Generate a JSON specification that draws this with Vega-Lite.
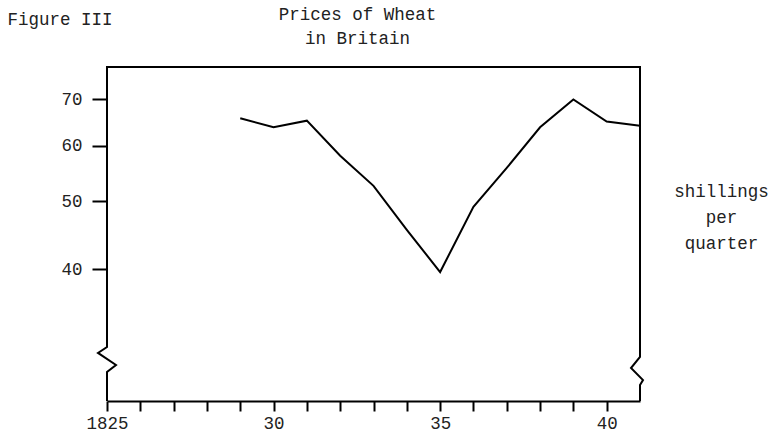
{
  "$schema": "https://vega.github.io/schema/vega-lite/v6.json",
  "width": 533,
  "height": 334,
  "autosize": "none",
  "padding": {"left": 107, "top": 67, "right": 130, "bottom": 31},
  "background": "white",
  "config": {"view": {"stroke": null}, "font": "Liberation Mono"},
  "title": {
    "text": ["Prices of Wheat", "in Britain\u00a0"],
    "font": "Liberation Mono",
    "fontSize": 17.5,
    "fontWeight": "normal",
    "color": "#222",
    "anchor": "middle",
    "dx": -16,
    "dy": 55,
    "offset": 18,
    "lineHeight": 24
  },
  "datasets": {
    "prices": [
      {"year": 1829, "price": 65.7},
      {"year": 1830, "price": 63.8},
      {"year": 1831, "price": 65.2},
      {"year": 1832, "price": 58.1},
      {"year": 1833, "price": 52.6},
      {"year": 1834, "price": 45.5},
      {"year": 1835, "price": 39.6},
      {"year": 1836, "price": 49.1},
      {"year": 1837, "price": 55.8},
      {"year": 1838, "price": 63.8},
      {"year": 1839, "price": 69.9},
      {"year": 1840, "price": 65.0},
      {"year": 1841, "price": 64.1}
    ],
    "frame": [
      {"step": 1, "year": 1825, "price": 25.9},
      {"step": 2, "year": 1825, "price": 28.5},
      {"step": 3, "year": 1825.27, "price": 29.16},
      {"step": 4, "year": 1824.73, "price": 30.34},
      {"step": 5, "year": 1825, "price": 30.94},
      {"step": 6, "year": 1825, "price": 77.8},
      {"step": 7, "year": 1841, "price": 77.8},
      {"step": 8, "year": 1841, "price": 29.94},
      {"step": 9, "year": 1840.73, "price": 28.87},
      {"step": 10, "year": 1841.09, "price": 27.75},
      {"step": 11, "year": 1841, "price": 27.3},
      {"step": 12, "year": 1841, "price": 25.9}
    ]
  },
  "layer": [
    {
      "data": {"name": "frame"},
      "mark": {"type": "line", "color": "black", "strokeWidth": 2, "strokeJoin": "miter", "clip": false},
      "encoding": {
        "x": {
          "field": "year",
          "type": "quantitative",
          "scale": {"domain": [1825, 1841], "nice": false, "zero": false},
          "axis": {
            "values": [1825, 1826, 1827, 1828, 1829, 1830, 1831, 1832, 1833, 1834, 1835, 1836, 1837, 1838, 1839, 1840],
            "tickCount": 40,
            "labelExpr": "datum.value == 1825 ? '1825' : (datum.value % 5 == 0 ? '' + (datum.value % 100) : '')",
            "tickSize": 10,
            "tickWidth": 2,
            "tickColor": "black",
            "domainColor": "black",
            "domainWidth": 2,
            "grid": false,
            "labelFont": "Liberation Mono",
            "labelFontSize": 17.5,
            "labelColor": "#222",
            "labelPadding": 3,
            "labelFlush": false,
            "labelOverlap": false,
            "title": ["shillings", "per", "quarter"],
            "titleAngle": 0,
            "titleX": 614,
            "titleY": -219,
            "titleAlign": "center",
            "titleBaseline": "top",
            "titleFont": "Liberation Mono",
            "titleFontSize": 17.5,
            "titleFontWeight": "normal",
            "titleColor": "#222",
            "titleLineHeight": 26
          }
        },
        "y": {
          "field": "price",
          "type": "quantitative",
          "scale": {"type": "log", "domain": [25.9, 77.8], "nice": false},
          "axis": {
            "values": [40, 50, 60, 70],
            "tickCount": 10,
            "tickSize": 15,
            "tickWidth": 2,
            "tickColor": "black",
            "domain": false,
            "grid": false,
            "labelPadding": 10,
            "labelFont": "Liberation Mono",
            "labelFontSize": 17.5,
            "labelColor": "#222",
            "title": "Figure III",
            "titleAngle": 0,
            "titleX": -100,
            "titleY": -57,
            "titleAlign": "left",
            "titleBaseline": "top",
            "titleFont": "Liberation Mono",
            "titleFontSize": 17.5,
            "titleFontWeight": "normal",
            "titleColor": "#222"
          }
        },
        "order": {"field": "step", "type": "quantitative"}
      }
    },
    {
      "data": {"name": "prices"},
      "mark": {"type": "line", "color": "black", "strokeWidth": 2},
      "encoding": {
        "x": {"field": "year", "type": "quantitative"},
        "y": {"field": "price", "type": "quantitative"}
      }
    }
  ]
}
